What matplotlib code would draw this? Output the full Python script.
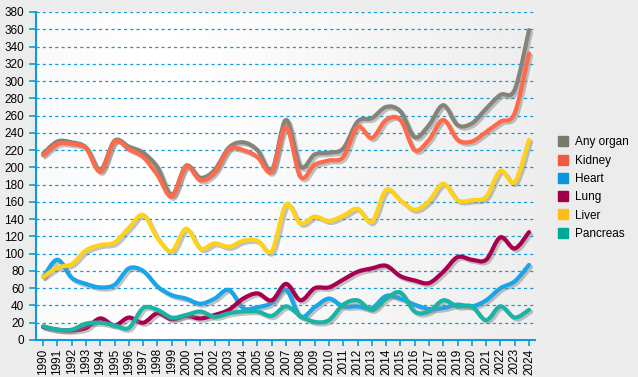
import matplotlib.pyplot as plt
import matplotlib.patheffects as pe
from matplotlib.path import Path
from matplotlib.patches import PathPatch
import numpy as np

plt.rcParams['font.family'] = ['Liberation Sans', 'DejaVu Sans']

years = list(range(1990, 2025))

any_organ = [216, 230, 229, 223, 197, 231, 224, 217, 200, 168, 202, 188, 197, 223, 229, 220,
             197, 255, 201, 215, 217, 222, 253, 257, 270, 265, 235, 249, 272, 249, 251, 268,
             284, 290, 359]
kidney = [214, 227, 227, 222, 195, 230, 221, 212, 191, 166, 201, 185, 194, 221, 220, 212,
          195, 247, 189, 203, 208, 212, 247, 234, 255, 255, 220, 232, 255, 232, 230, 241,
          253, 263, 332]
heart = [73, 93, 72, 65, 61, 64, 83, 80, 62, 52, 48, 42, 48, 58, 37, 38,
         43, 58, 27, 38, 48, 39, 39, 37, 51, 48, 41, 36, 37, 41, 39, 46,
         60, 68, 87]
lung = [15, 12, 11, 14, 25, 17, 26, 20, 31, 24, 28, 25, 29, 35, 48, 54,
        46, 65, 46, 60, 61, 70, 79, 83, 86, 74, 69, 66, 79, 96, 93, 93,
        119, 106, 125]
liver = [73, 84, 88, 104, 110, 113, 130, 145, 118, 103, 129, 106, 112, 108, 115, 115,
         103, 157, 135, 143, 138, 144, 152, 137, 174, 162, 151, 161, 181, 162, 162, 166,
         196, 183, 232]
pancreas = [16, 12, 12, 19, 20, 17, 14, 37, 35, 26, 29, 33, 27, 31, 33, 33,
            28, 39, 28, 21, 23, 41, 46, 35, 48, 55, 33, 33, 46, 39, 39, 23,
            39, 26, 35]

series = [
    ("Any organ", any_organ, "#85847a", "#7a7a6a"),
    ("Kidney", kidney, "#ff6a4a", "#f05a40"),
    ("Heart", heart, "#1aa5ea", "#0a96dc"),
    ("Lung", lung, "#a8004e", "#a0004a"),
    ("Liver", liver, "#ffd21a", "#ffbb1a"),
    ("Pancreas", pancreas, "#1ab4a4", "#00a89a"),
]


def smooth_path(x, y, t=1/6):
    # Catmull-Rom through the points, drawn as cubic bezier segments
    x = np.asarray(x, float)
    y = np.asarray(y, float)
    verts = [(x[0], y[0])]
    codes = [Path.MOVETO]
    n = len(x)
    for i in range(n - 1):
        x0, y0 = (x[i - 1], y[i - 1]) if i > 0 else (x[i], y[i])
        x3, y3 = (x[i + 2], y[i + 2]) if i + 2 < n else (x[i + 1], y[i + 1])
        c1 = (x[i] + (x[i + 1] - x0) * t, y[i] + (y[i + 1] - y0) * t)
        c2 = (x[i + 1] - (x3 - x[i]) * t, y[i + 1] - (y3 - y[i]) * t)
        verts += [c1, c2, (x[i + 1], y[i + 1])]
        codes += [Path.CURVE4] * 3
    return Path(verts, codes)


fig = plt.figure(figsize=(6.38, 3.77), dpi=100, facecolor="#ececec")
ax = fig.add_axes([36 / 638, 1 - 340 / 377, (535 - 36) / 638, (340 - 12) / 377])
ax.set_facecolor("none")

# background gradient of the plot area
grad = np.linspace(0, 1, 256)
shade = 1 - 0.07 * np.abs(grad - 0.25) / 0.75
img = np.tile(shade, (2, 1))
ax.imshow(img, cmap="gray", vmin=0, vmax=1, extent=[0, 1, 0, 1], transform=ax.transAxes,
          aspect="auto", zorder=0)

ax.set_xlim(1989.5, 2024.42)
ax.set_ylim(0, 380)
ax.set_yticks(range(0, 381, 20))
ax.set_xticks(years)
ax.set_xticklabels([str(y) for y in years], rotation=90)

blue = "#0f9ad8"
ax.grid(axis="y", color=blue, linestyle=(0, (2.5, 2.5)), linewidth=0.9, zorder=1)
for s in ["top", "right"]:
    ax.spines[s].set_visible(False)
for s in ["left", "bottom"]:
    ax.spines[s].set_color(blue)
    ax.spines[s].set_linewidth(1.5)
ax.tick_params(axis="both", colors=blue, labelcolor="black", labelsize=8.5, length=5, width=1.2)
ax.tick_params(axis="x", length=4, pad=2)

for name, vals, lc, mc in series:
    patch = PathPatch(smooth_path(years, vals), facecolor="none", edgecolor=lc, linewidth=3.0,
                      capstyle="round", joinstyle="round", zorder=3,
                      path_effects=[pe.SimpleLineShadow(offset=(1.5, -1.5), shadow_color="#888888", alpha=0.5),
                                    pe.Normal()])
    ax.add_patch(patch)
    ax.plot([], [], marker="s", linestyle="none", color=mc, markersize=7, label=name)

ax.legend(loc="center left", bbox_to_anchor=(1.025, 0.463), frameon=False, fontsize=8.5,
          handlelength=0.8, handletextpad=0.6, labelspacing=0.53)

fig.savefig("out.png", dpi=100, facecolor=fig.get_facecolor())
